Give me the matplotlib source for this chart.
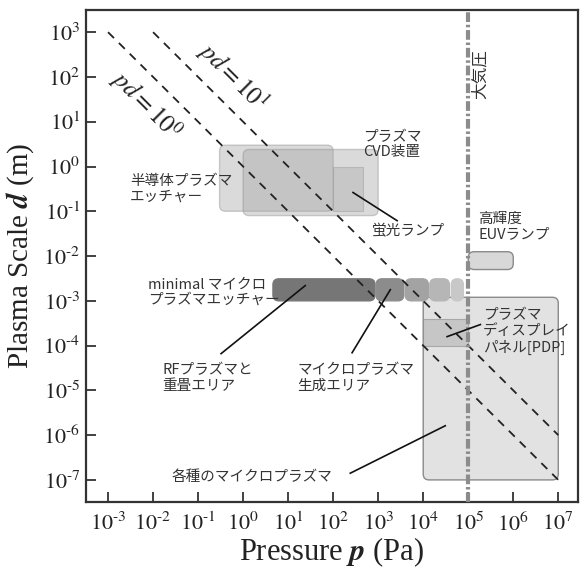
import matplotlib.pyplot as plt
import numpy as np
from matplotlib.patches import FancyBboxPatch, Rectangle

plt.rcParams['font.family'] = ['Liberation Serif', 'DejaVu Serif']
plt.rcParams['mathtext.fontset'] = 'stix'
plt.rcParams['lines.scale_dashes'] = False

JP = ['Noto Sans CJK JP', 'DejaVu Sans']

# pd = const lines
pd_values = [1, 10]
pd_p_start = [1e-3, 1e-2]
pd_p_end = [1e7, 1e7]

atm_pressure = 1e5

# regions: (p_min, p_max, d_min, d_max)
etcher_box = (0.3, 100, 0.1, 3)
cvd_box = (1, 1000, 0.08, 2.4)
lamp_box = (100, 470, 0.1, 1)
euv_box = (1e5, 1e6, 0.005, 0.0125)
micro_box = (1e4, 1e7, 1e-7, 1.2e-3)
pdp_box = (1e4, 1e5, 1e-4, 4e-4)

# minimal microplasma etcher bar, split in segments
bar_p_lo = [4.6, 900, 4000, 14000, 42000]
bar_p_hi = [850, 3700, 13000, 38000, 78000]
bar_d = (1e-3, 3.1e-3)
bar_colors = ['#767676', '#8c8c8c', '#a3a3a3', '#b6b6b6', '#c8c8c8']

# labels: text, p, d
labels = [
    ("半導体プラズマ\nエッチャー", 10**-2.51, 10**-0.49),
    ("プラズマ\nCVD装置", 10**2.67, 10**0.49),
    ("蛍光ランプ", 10**2.87, 10**-1.45),
    ("高輝度\nEUVランプ", 10**5.22, 10**-1.34),
    ("minimal マイクロ\nプラズマエッチャー", 10**-2.11, 10**-2.80),
    ("RFプラズマと\n重畳エリア", 10**-1.8, 10**-4.72),
    ("マイクロプラズマ\n生成エリア", 10**1.2, 10**-4.72),
    ("各種のマイクロプラズマ", 10**-1.58, 10**-6.94),
    ("プラズマ\nディスプレイ\nパネル[PDP]", 10**5.33, 10**-3.69),
]

# leader lines: (p0, d0, p1, d1)
leaders = [
    (10**-0.49, 10**-4.18, 10**1.38, 10**-2.66),
    (10**2.42, 10**-4.16, 10**3.27, 10**-2.75),
    (10**2.38, 10**-6.85, 10**4.49, 10**-5.79),
    (10**4.53, 10**-3.80, 10**5.27, 10**-3.53),
    (10**2.44, 10**-0.58, 10**3.42, 10**-1.21),
]

x_exp = list(range(-3, 8))
y_exp = list(range(-7, 4))


def tick_label(k):
    if k < 0:
        return r'$10^{\text{-}%d}$' % (-k)
    return r'$10^{%d}$' % k


fig = plt.figure(figsize=(5.81, 5.69), dpi=100)
ax = fig.add_axes([0.148, 0.118, 0.847, 0.864])
ax.set_xscale('log')
ax.set_yscale('log')
ax.set_xlim(10**-3.49, 10**7.44)
ax.set_ylim(10**-7.49, 10**3.49)

to_axes = ax.transData + ax.transAxes.inverted()


def box(b, face, alpha=1.0, edge='#8a8a8a', z=1, rounded=True):
    (x0, y0), (x1, y1) = to_axes.transform([(b[0], b[2]), (b[1], b[3])])
    if rounded:
        patch = FancyBboxPatch((x0, y0), x1 - x0, y1 - y0,
                               boxstyle='round,pad=0,rounding_size=0.012',
                               transform=ax.transAxes, facecolor=face,
                               edgecolor=edge, lw=1.0, alpha=alpha, zorder=z)
    else:
        patch = Rectangle((x0, y0), x1 - x0, y1 - y0, transform=ax.transAxes,
                          facecolor=face, edgecolor=edge, lw=0.8,
                          alpha=alpha, zorder=z)
    ax.add_patch(patch)


box(micro_box, '#e2e2e2', z=1)
box(etcher_box, '#a4a4a4', alpha=0.4, z=2)
box(cvd_box, '#a4a4a4', alpha=0.4, z=2)
box(lamp_box, '#a4a4a4', alpha=0.35, z=2, rounded=False)
box(pdp_box, '#b4b4b4', alpha=0.6, z=2, rounded=False)
box(euv_box, '#d8d8d8', z=2)
for lo, hi, c in zip(bar_p_lo, bar_p_hi, bar_colors):
    box((lo, hi, bar_d[0], bar_d[1]), c, edge=c, z=3)

# pd lines
for pdv, p0, p1 in zip(pd_values, pd_p_start, pd_p_end):
    pp = np.array([p0, p1])
    ax.plot(pp, pdv / pp, color='#222222', lw=1.3, ls=(0, (6, 5)), zorder=4)

ax.text(10**-2.15, 10**1.38, r'$\mathit{pd{=}10^{0}}$', fontsize=18,
        rotation=-45, ha='center', va='center', color='#222222', zorder=5)
ax.text(10**-0.22, 10**2.0, r'$\mathit{pd{=}10^{1}}$', fontsize=18,
        rotation=-45, ha='center', va='center', color='#222222', zorder=5)

# atmospheric pressure
ax.axvline(atm_pressure, color='#8c8c8c', lw=3, ls=(0, (7, 2, 1.8, 2)), zorder=5)
ax.text(10**5.27, 10**2.06, '大気圧', family=JP, fontsize=12, rotation=90,
        ha='center', va='center', color='#333333')

for txt, p, d in labels:
    ax.text(p, d, txt, family=JP, fontsize=10.5, ha='left', va='center',
            color='#333333', linespacing=1.15, zorder=6)

for p0, d0, p1, d1 in leaders:
    ax.plot([p0, p1], [d0, d1], color='#111111', lw=1.2, zorder=6)

ax.set_xticks([10.0**k for k in x_exp])
ax.set_yticks([10.0**k for k in y_exp])
ax.set_xticklabels([tick_label(k) for k in x_exp])
ax.set_yticklabels([tick_label(k) for k in y_exp])
ax.minorticks_off()
ax.tick_params(direction='in', length=7, width=1.3, labelsize=16,
               color='#333333', labelcolor='#222222')
ax.tick_params(axis='x', pad=8)
ax.tick_params(axis='y', pad=4)
for s in ax.spines.values():
    s.set_color('#333333')
    s.set_linewidth(1.6)

ax.set_xlabel(r'Pressure $\mathbfit{p}$ (Pa)', fontsize=22, color='#222222',
              va='baseline')
ax.set_ylabel(r'Plasma Scale $\mathbfit{d}$ (m)', fontsize=21, color='#222222')
ax.xaxis.set_label_coords(0.5, -0.118)
ax.yaxis.set_label_coords(-0.102, 0.5)

fig.savefig('out.png', dpi=100)
